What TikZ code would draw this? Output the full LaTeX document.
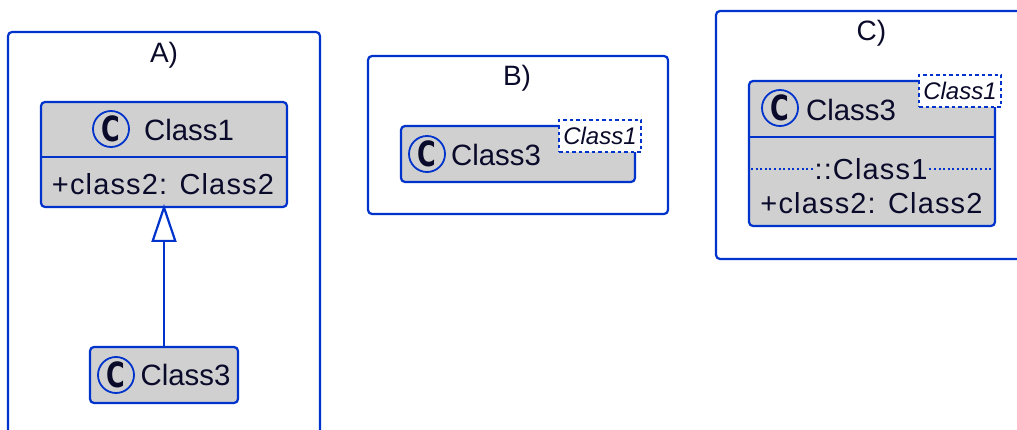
\documentclass[tikz,border=0pt]{standalone}
\usepackage{fontspec}
\setmainfont{Liberation Sans}
\newfontfamily\spacedfont[LetterSpace=4]{Liberation Sans}
\newfontfamily\spotfont{DejaVu Sans}
\usetikzlibrary{arrows.meta}
\definecolor{umlblue}{HTML}{0033CC}
\definecolor{umlgray}{HTML}{D0D0D0}
\definecolor{umltext}{HTML}{0A0A2A}
\tikzset{
  x=1pt,y=-1pt,
  outer sep=0pt,
  frame/.style={draw=umlblue,line width=2.2pt,rounded corners=4pt,fill=none,inner sep=0pt,anchor=north west},
  classbox/.style={draw=umlblue,line width=2.2pt,rounded corners=4pt,fill=umlgray,inner sep=0pt,anchor=north west},
  tagbox/.style={draw=umlblue,line width=2pt,dash pattern=on 3.5pt off 3pt,fill=white,inner sep=0pt,anchor=north west,text=umltext,font=\fontsize{24}{26}\selectfont\itshape,minimum width=82pt,minimum height=32pt},
  spot/.style={circle,draw=umlblue,line width=1.8pt,fill=umlgray,minimum size=36pt,inner sep=0pt,text=umltext,font=\spotfont\fontsize{31}{33}\selectfont\bfseries},
  label/.style={text=umltext,inner sep=0pt,font=\fontsize{29.4}{32}\selectfont},
  member/.style={text=umltext,inner sep=0pt,font=\spacedfont\fontsize{29}{32}\selectfont},
  title/.style={text=umltext,inner sep=0pt,font=\fontsize{28}{32}\selectfont},
  divider/.style={draw=umlblue,line width=2.2pt},
  dots/.style={draw=umlblue,line width=1.8pt,dash pattern=on 2pt off 2.6pt},
  extends/.style={draw=umlblue,line width=2.2pt,shorten >=-3pt,-{Triangle[open,length=38pt,width=25pt,line width=2.2pt,fill=white]}}
}
\newcommand{\spotC}{\scalebox{0.82}[1.12]{C}}
\begin{document}
\begin{tikzpicture}
\useasboundingbox (0,0) rectangle (1017,430);
\clip (0,0) rectangle (1017,430);
% A
\node[frame,minimum width=312pt,minimum height=440pt] (frameA) at (8,32) {};
\node[title] (titleA) at (164,55) {A)};
\node[classbox,minimum width=246pt,minimum height=105pt] (boxA1) at (41,102) {};
\coordinate (divA) at (41,157);
\draw[divider] (divA) -- (divA -| boxA1.east);
\node[spot] (spotA1) at (111,129) {\spotC};
\node[label] (nameA1) at (189,130) {Class1};
\node[member] (memA1) at (163,184) {+class2: Class2};
\node[classbox,minimum width=148pt,minimum height=56pt] (boxA3) at (90,347) {};
\node[spot] (spotA3) at (116,375) {\spotC};
\node[label] (nameA3) at (185.5,375) {Class3};
\draw[extends] (boxA3) -- (boxA1);
% B
\node[frame,minimum width=300pt,minimum height=158pt] (frameB) at (368,56) {};
\node[title] (titleB) at (517,78.5) {B)};
\node[classbox,minimum width=234pt,minimum height=56pt] (boxB) at (401,126) {};
\node[tagbox] (tagB) at (559,120) {Class1};
\node[spot] (spotB) at (427,154) {\spotC};
\node[label] (nameB) at (496,155) {Class3};
% C
\node[frame,minimum width=340pt,minimum height=248pt] (frameC) at (716,11) {};
\node[title] (titleC) at (871.5,33) {C)};
\node[classbox,minimum width=246pt,minimum height=145pt] (boxC) at (749,81) {};
\node[tagbox] (tagC) at (919,75) {Class1};
\node[spot] (spotC) at (780,108) {\spotC};
\node[label] (nameC) at (851,110) {Class3};
\coordinate (divC) at (749,137);
\draw[divider] (divC) -- (divC -| boxC.east);
\node[member] (sepC) at (871,169) {::Class1};
\coordinate (dotL) at (751,169);
\coordinate (dotR) at (992,169);
\draw[dots,shorten >=2pt] (dotL) -- (sepC.west);
\draw[dots,shorten <=2pt] (sepC.east) -- (dotR);
\node[member] (memC) at (871.5,203) {+class2: Class2};
\end{tikzpicture}
\end{document}
